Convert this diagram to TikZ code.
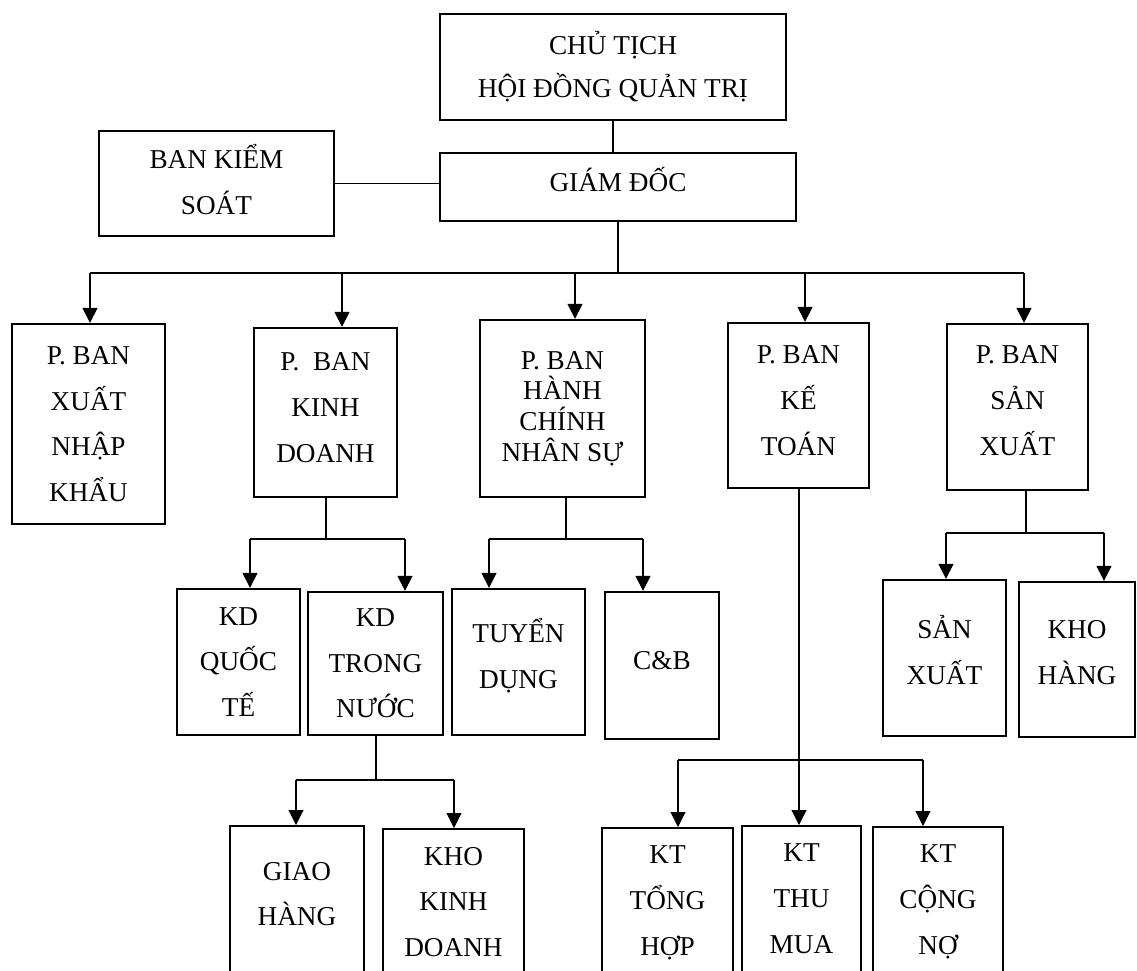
\documentclass[tikz,border=0pt]{standalone}
\usepackage{fontspec}
\setmainfont{Liberation Serif}
\usetikzlibrary{arrows.meta}
\begin{document}
\begin{tikzpicture}[
  x=0.2mm, y=-0.2mm,
  box/.style={draw,line width=1.3pt,align=center,inner sep=0pt,font=\fontsize{15.5}{26}\selectfont},
  cut/.style={box,anchor=north,inner ysep=3.6mm,text depth=45mm},
  line/.style={line width=0.6pt},
  arr/.style={line,-{Triangle[length=3mm,width=3mm]}}
]
\useasboundingbox (0,0) rectangle (1137,971);
\clip (0,0) rectangle (1137,971);
\node[box,minimum width=69.2mm,minimum height=21.2mm,font=\fontsize{15.5}{24.5}\selectfont] (chair) at (613,67) {CHỦ TỊCH\\HỘI ĐỒNG QUẢN TRỊ};
\node[box,minimum width=71.2mm,minimum height=13.6mm,text depth=9pt] (gd) at (618,187) {GIÁM ĐỐC};
\node[box,minimum width=47mm,minimum height=21mm,text depth=5pt] (bks) at (216.5,183.5) {BAN KIỂM\\SOÁT};
\node[box,minimum width=30.6mm,minimum height=40mm] (xnk) at (88.5,424) {P. BAN\\XUẤT\\NHẬP\\KHẨU};
\node[box,minimum width=28.6mm,minimum height=33.8mm,text depth=5.7pt] (kd) at (325.5,412.5) {P.\ \ BAN\\KINH\\DOANH};
\node[box,minimum width=33mm,minimum height=35.4mm,font={\fontsize{15.5}{17.5}\selectfont\lineskiplimit=-20pt}] (hcns) at (562.5,408.5) {P. BAN\\HÀNH\\CHÍNH\\NHÂN SỰ};
\node[box,minimum width=28.2mm,minimum height=33mm,text depth=5.7pt] (kt) at (798.5,405.5) {P. BAN\\KẾ\\TOÁN};
\node[box,minimum width=28.2mm,minimum height=33.2mm,text depth=7.4pt] (sx) at (1017.5,407) {P. BAN\\SẢN\\XUẤT};
\node[box,minimum width=24.6mm,minimum height=29.2mm] (kdqt) at (238.5,662) {KD\\QUỐC\\TẾ};
\node[box,minimum width=27mm,minimum height=28.6mm] (kdtn) at (375.5,663.5) {KD\\TRONG\\NƯỚC};
\node[box,minimum width=26.6mm,minimum height=29.2mm,text depth=9.5pt] (td) at (518.5,662) {TUYỂN\\DỤNG};
\node[box,minimum width=22.8mm,minimum height=29.4mm,text depth=5.7pt] (cb) at (662,665.5) {C\&B};
\node[box,minimum width=24.6mm,minimum height=31.2mm,text depth=9pt] (spx) at (944.5,658) {SẢN\\XUẤT};
\node[box,minimum width=23.2mm,minimum height=31mm,text depth=8pt] (kh) at (1077,659.5) {KHO\\HÀNG};
\node[cut,minimum width=26.8mm,inner ysep=7.2mm] (gh) at (297,825) {GIAO\\HÀNG};
\node[cut,minimum width=28.2mm] (kkd) at (453.5,828) {KHO\\KINH\\DOANH};
\node[cut,minimum width=26.2mm] (ktth) at (667.5,827) {KT\\TỔNG\\HỢP};
\node[cut,minimum width=23.8mm] (ktm) at (801.5,825) {KT\\THU\\MUA};
\node[cut,minimum width=26mm] (ktcn) at (938,826) {KT\\CỘNG\\NỢ};
\coordinate (j0) at (618,273);
\coordinate (a1) at (90,273);
\coordinate (a2) at (342,273);
\coordinate (a3) at (575,273);
\coordinate (a4) at (805,273);
\coordinate (a5) at (1024,273);
\coordinate (b0) at (326,539);
\coordinate (b1) at (250,539);
\coordinate (b2) at (405,539);
\coordinate (c0) at (566,539);
\coordinate (c1) at (489,539);
\coordinate (c2) at (643,539);
\coordinate (d0) at (1026,533);
\coordinate (d1) at (946,533);
\coordinate (d2) at (1104,533);
\coordinate (e0) at (376,780);
\coordinate (e1) at (296,780);
\coordinate (e2) at (454,780);
\coordinate (f0) at (799,760);
\coordinate (f1) at (678,760);
\coordinate (f2) at (923,760);
\draw[line] (chair.south) -- (chair.south |- gd.north);
\draw[line] (bks.east) -- (bks.east -| gd.west);
\draw[line] (gd.south) -- (j0);
\draw[line] (kd.south -| b0) -- (b0);
\draw[line] (hcns.south -| c0) -- (c0);
\draw[line] (sx.south -| d0) -- (d0);
\draw[line] (kdtn.south -| e0) -- (e0);
\draw[arr] (kt.south -| f0) -- (f0 |- ktm.north);
\draw[line] (a1) -- (a5);
\draw[line] (b1) -- (b2);
\draw[line] (c1) -- (c2);
\draw[line] (d1) -- (d2);
\draw[line] (e1) -- (e2);
\draw[line] (f1) -- (f2);
\foreach \p/\q in {a1/xnk,a2/kd,a3/hcns,a4/kt,a5/sx,b1/kdqt,b2/kdtn,c1/td,c2/cb,
    d1/spx,d2/kh,e1/gh,e2/kkd,f1/ktth,f2/ktcn}
  \draw[arr] (\p) -- (\p |- \q.north);
\end{tikzpicture}
\end{document}
